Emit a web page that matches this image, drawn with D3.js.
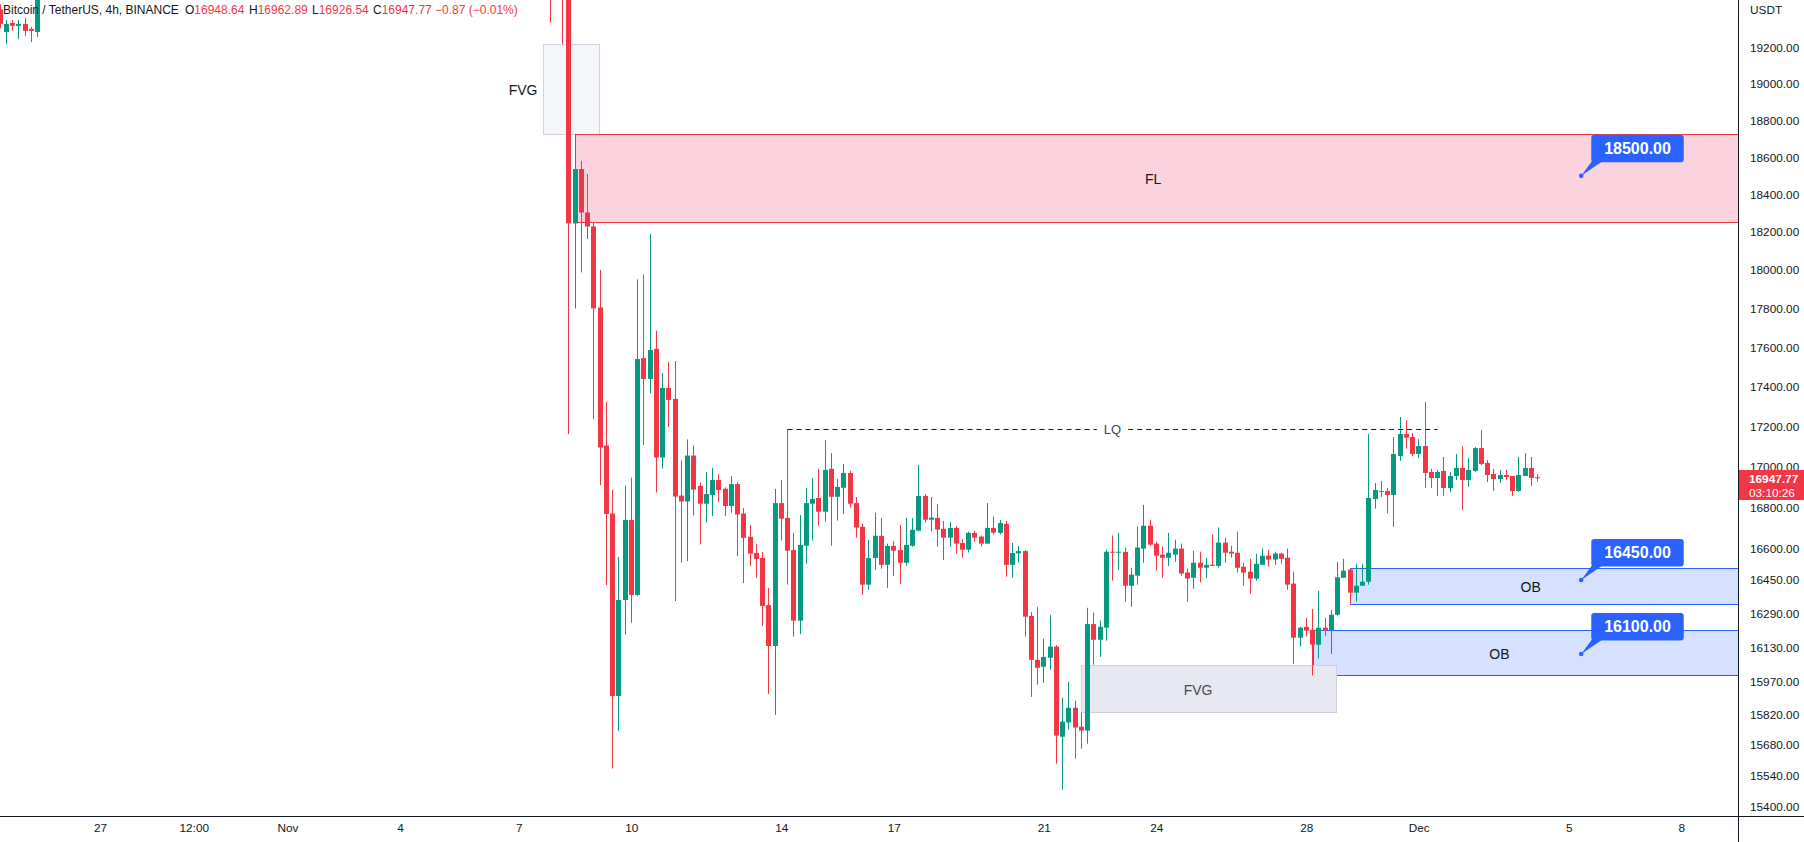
<!DOCTYPE html>
<html>
<head>
<meta charset="utf-8">
<script src="https://cdn.jsdelivr.net/npm/d3@7/dist/d3.min.js"></script>
<style>
html,body{margin:0;padding:0;background:#ffffff;}
svg{display:block;}
text{font-family:"Liberation Sans",Arial,sans-serif;}
</style>
</head>
<body>
<svg id="chart" width="1804" height="842"></svg>
<script>
// ---------------- DATA ----------------
// bar index 0 = 12 Nov 2022 00:00 (4h bars, TradingView bar-index time axis)
const barsLeft = [-113,-112,-111,-110,-109,-108,-107];
const barsMain = d3.range(-25, 134);
const bars = barsLeft.concat(barsMain);

const opens = [
19417,19290,19341,19324,19335,19307,19290,
19610,19540,19590,19520,18246,18537,18304,18230,17806,17106,16771,15905,16355,16740,16379,17546,17440,17593,17046,17395,17339,16859,16830,17056,16906,
16819,16862,16935,16892,16808,16915,16771,16658,16580,16556,16331,16138,16822,16750,16594,16257,16615,16819,16847,16780,
16990,16853,16897,16970,16822,16706,16428,16556,16663,16523,16614,16594,16533,16615,16688,16857,16741,16750,16697,16654,
16701,16628,16596,16677,16659,16625,16701,16677,16721,16523,16578,16589,16279,16073,16041,16083,16135,15718,15783,15851,
15764,15746,16241,16167,16224,16586,16581,16585,16423,16471,16601,16712,16625,16572,16557,16572,16601,16486,16461,16533,
16509,16523,16518,16630,16586,16581,16514,16490,16457,16523,16567,16548,16577,16557,16433,16177,16228,16214,16144,16224,
16210,16285,16461,16500,16390,16423,16442,16842,16881,16881,16862,17054,17163,17148,17064,17103,16975,16945,16980,16896,
16955,16995,16935,16980,17093,17019,16965,16940,16960,16955,16881,16955,16995,16948.64];

const highs = [
19445,19357,19357,19357,19368,19318,20050,
19690,19650,19700,19640,18727,18581,18510,18251,18001,17324,16888,16561,16908,16947,17952,17978,18190,17687,17470,17526,17531,17032,17136,17106,16923,
16975,16994,16965,16899,16954,16925,16798,16716,16624,16585,16412,16891,16935,17186,16677,16764,16896,16945,16990,17133,
17068,16940,17014,16980,16852,16721,16643,16775,16750,16625,16638,16716,16750,16750,17009,16866,16852,16818,16735,16730,
16711,16648,16683,16688,16664,16822,16756,16740,16735,16628,16614,16594,16298,16322,16172,16284,16142,15897,15971,15883,
15829,16318,16295,16257,16596,16664,16677,16606,16509,16708,16813,16741,16635,16610,16677,16644,16625,16505,16591,16586,
16557,16669,16703,16654,16615,16683,16533,16552,16577,16601,16596,16586,16581,16601,16490,16228,16271,16313,16399,16271,
16308,16538,16552,16505,16528,16528,17163,16920,16930,16896,17148,17248,17233,17168,17138,17324,16990,16985,17049,16975,
17064,17103,17044,17098,17183,17034,16990,16985,16985,16955,17049,17068,17049,16962.89];

const lows = [
19310,19222,19296,19250,19268,19233,19262,
19343,19490,19223,17163,17801,17988,18164,17238,16910,16426,15573,15744,16190,16248,16374,17108,17367,16874,16992,17198,16350,16534,16541,16762,16621,
16727,16759,16827,16759,16775,16565,16436,16517,16460,16232,15914,15818,16640,16428,16182,16194,16528,16640,16712,16732,
16615,16737,16768,16800,16654,16380,16404,16498,16504,16413,16469,16431,16518,16610,16683,16727,16683,16610,16546,16610,
16577,16557,16582,16635,16610,16625,16669,16670,16466,16461,16533,16182,15901,15957,15966,16027,15595,15478,15750,15618,
15663,15686,16050,16087,16163,16447,16498,16347,16323,16428,16533,16615,16495,16461,16518,16538,16471,16347,16409,16438,
16461,16518,16509,16533,16557,16486,16423,16385,16447,16523,16514,16523,16528,16404,16054,16135,16182,16000,16080,16186,
16101,16280,16461,16333,16347,16423,16428,16795,16853,16772,16707,17030,17090,17054,17044,16896,16896,16857,16857,16876,
16935,16788,16901,16975,17009,16925,16881,16920,16935,16857,16876,16955,16906,16926.54];

const closes = [
19335,19335,19324,19335,19296,19296,19890,
19540,19590,19520,18246,18537,18304,18230,17801,17096,16769,15905,16355,16740,16379,17541,17440,17588,17046,17395,17334,16854,16830,17056,16888,16819,
16866,16935,16886,16808,16915,16766,16653,16577,16551,16327,16138,16822,16746,16591,16257,16619,16822,16842,16780,16985,
16853,16901,16970,16819,16703,16428,16556,16663,16523,16614,16591,16533,16619,16692,16857,16741,16751,16693,16654,16701,
16625,16596,16677,16654,16625,16701,16678,16725,16523,16580,16589,16276,16073,16036,16087,16135,15723,15787,15851,15760,
15746,16241,16167,16228,16586,16581,16586,16423,16476,16606,16712,16620,16567,16557,16581,16601,16481,16457,16533,16509,
16523,16518,16630,16581,16577,16509,16486,16457,16528,16567,16548,16577,16552,16428,16177,16224,16210,16144,16224,16210,
16285,16463,16495,16390,16423,16442,16847,16886,16876,16862,17064,17163,17145,17064,17103,16970,16945,16975,16896,16955,
16995,16935,16985,17093,17014,16960,16940,16960,16950,16881,16960,16995,16945,16947.77];

const priceTicks = [19200,19000,18800,18600,18400,18200,18000,17800,17600,17400,17200,17000,16800,16600,16450,16290,16130,15970,15820,15680,15540,15400];
const timeTickBars = [-97,-82,-67,-49,-30,-12,12,30,54,72,96,114,138,156];
const timeTickLabels = ["27","12:00","Nov","4","7","10","14","17","21","24","28","Dec","5","8"];

const zoneLabels = ["FVG","FL","OB","OB","FVG"];
const zoneKinds = ["gapTop","liquidity","block","block","gap"];
const zoneStartBars = [-26.1,-21,103,97,60];
const zoneEndBars = [-17.1,170,170,170,100.75];
const zoneTops = [19223,18725,16506,16213,16047];
const zoneBottoms = [18727,18255,16335,16002,15829];
const zoneLabelBars = [-29.3,71.5,131.9,126.9,78.7];

const lqLabel = "LQ";
const lqPrice = 17186;
const lqStartBar = 13;
const lqEndBar = 117;

const calloutPrices = [18500,16450,16100];
const calloutBar = 140;

const legendTitle = "Bitcoin / TetherUS, 4h, BINANCE";
const legendKeys = ["O","H","L","C"];
const legendValues = [16948.64,16962.89,16926.54,16947.77];
const legendChange = "\u22120.87 (\u22120.01%)";
const countdown = "03:10:26";
const currency = "USDT";

// ---------------- STYLE ----------------
const UP = "#089981", DOWN = "#F23645", TXT = "#131722";
const zoneStyle = {
  gapTop:   {fill:"#F5F6F9", stroke:"#D1D4DC", text:"#131722"},
  liquidity:{fill:"#FAD3DE", stroke:"#F23645", text:"#131722"},
  block:    {fill:"#D6E0FF", stroke:"#2962FF", text:"#131722"},
  gap:      {fill:"#E8E8F3", stroke:"#CFD0DA", text:"#4A4A55"}
};

// ---------------- CHART ----------------
const W = 1804, H = 842, PR = 1738, PB = 816;
const svg = d3.select("#chart");
svg.append("rect").attr("width", W).attr("height", H).attr("fill", "#ffffff");

const x = d3.scaleLinear().domain([-113, 165]).range([0, 1737.5]);
const y = d3.scaleLog().domain([15360, 19470]).range([PB, 0]);

svg.append("defs").append("clipPath").attr("id", "plot")
  .append("rect").attr("x", 0).attr("y", 0).attr("width", PR).attr("height", PB);
const g = svg.append("g").attr("clip-path", "url(#plot)");

// zones
const zones = zoneLabels.map((t, i) => ({t, k: zoneKinds[i], x0: x(zoneStartBars[i]), x1: x(zoneEndBars[i]),
  y0: y(zoneTops[i]), y1: y(zoneBottoms[i]), lx: x(zoneLabelBars[i])}));
g.selectAll("rect.zone").data(zones).join("rect").attr("class", "zone")
  .attr("x", d => Math.round(d.x0) + 0.5).attr("y", d => Math.round(d.y0) + 0.5)
  .attr("width", d => Math.round(d.x1) - Math.round(d.x0)).attr("height", d => Math.round(d.y1) - Math.round(d.y0))
  .attr("fill", d => zoneStyle[d.k].fill).attr("stroke", d => zoneStyle[d.k].stroke).attr("stroke-width", 1);

// candles
const candles = bars.map((b, i) => ({b, o: opens[i], h: highs[i], l: lows[i], c: closes[i]}));
const cg = g.append("g");
cg.selectAll("line").data(candles).join("line")
  .attr("x1", d => Math.floor(x(d.b)) + 0.5).attr("x2", d => Math.floor(x(d.b)) + 0.5)
  .attr("y1", d => y(d.h)).attr("y2", d => y(d.l))
  .attr("stroke", d => d.c >= d.o ? UP : DOWN).attr("stroke-width", 1);
cg.selectAll("rect").data(candles).join("rect")
  .attr("x", d => Math.floor(x(d.b)) - 2).attr("width", 5)
  .attr("y", d => y(Math.max(d.o, d.c)))
  .attr("height", d => Math.max(1, Math.abs(y(d.o) - y(d.c))))
  .attr("fill", d => d.c >= d.o ? UP : DOWN);

// zone labels
g.selectAll("text.zl").data(zones).join("text").attr("class", "zl")
  .attr("x", d => d.lx).attr("y", d => (d.y0 + d.y1) / 2 + 1)
  .attr("text-anchor", "middle").attr("dominant-baseline", "central")
  .attr("font-size", 14).attr("fill", d => zoneStyle[d.k].text).text(d => d.t);

// LQ dashed line with label gap
const lqY = Math.round(y(lqPrice)) + 0.5;
const lqX0 = x(lqStartBar), lqX1 = x(lqEndBar), lqMid = (lqX0 + lqX1) / 2;
const lqText = g.append("text").attr("x", lqMid).attr("y", lqY).attr("text-anchor", "middle")
  .attr("dominant-baseline", "central").attr("font-size", 13).attr("fill", "#434651").text(lqLabel);
const lqW = lqText.node().getComputedTextLength();
[[lqX0, lqMid - lqW / 2 - 7], [lqMid + lqW / 2 + 7, lqX1]].forEach(s => {
  g.append("line").attr("x1", s[0]).attr("x2", s[1]).attr("y1", lqY).attr("y2", lqY)
    .attr("stroke", "#131722").attr("stroke-width", 1).attr("stroke-dasharray", "5,4");
});

// callouts
const cx = x(calloutBar);
calloutPrices.forEach(p => {
  const ty = y(p);
  const cgp = g.append("g");
  cgp.append("path").attr("d", `M${cx + 11},${ty - 15} L${cx + 22},${ty - 15} L${cx},${ty} Z`).attr("fill", "#2962FF");
  cgp.append("rect").attr("x", cx + 10).attr("y", ty - 41).attr("width", 92.5).attr("height", 27.5)
    .attr("rx", 3).attr("fill", "#2962FF");
  cgp.append("circle").attr("cx", cx).attr("cy", ty).attr("r", 2.3).attr("fill", "#2962FF");
  cgp.append("text").attr("x", cx + 56.3).attr("y", ty - 27.3).attr("text-anchor", "middle")
    .attr("dominant-baseline", "central").attr("font-size", 16).attr("font-weight", "bold")
    .attr("fill", "#ffffff").text(d3.format(".2f")(p));
});

// axes
const yAxis = d3.axisRight(y).tickValues(priceTicks).tickFormat(d3.format(".2f")).tickSize(0).tickPadding(12);
const ya = svg.append("g").attr("transform", `translate(${PR},0)`).call(yAxis);
ya.select(".domain").remove();
ya.selectAll("text").attr("font-size", 11.8).attr("fill", TXT).attr("font-family", '"Liberation Sans",Arial,sans-serif');

const xAxis = d3.axisBottom(x).tickValues(timeTickBars).tickFormat((d, i) => timeTickLabels[i]).tickSize(0).tickPadding(8);
const xa = svg.append("g").attr("transform", `translate(0,${PB})`).call(xAxis);
xa.select(".domain").remove();
xa.selectAll("text").attr("font-size", 11.8).attr("fill", TXT).attr("font-family", '"Liberation Sans",Arial,sans-serif');

svg.append("text").attr("x", PR + 12).attr("y", 10).attr("dominant-baseline", "central")
  .attr("font-size", 11.8).attr("fill", TXT).text(currency);

// current price tag
const lastC = closes[closes.length - 1];
const ly = y(lastC);
svg.append("rect").attr("x", PR).attr("y", ly - 7.5).attr("width", W - PR).attr("height", 30).attr("fill", DOWN);
svg.append("text").attr("x", PR + 11).attr("y", ly + 1.5).attr("dominant-baseline", "central")
  .attr("font-size", 11.8).attr("fill", "#fff").attr("font-weight", "bold").text(d3.format(".2f")(lastC));
svg.append("text").attr("x", PR + 11).attr("y", ly + 15.5).attr("dominant-baseline", "central")
  .attr("font-size", 11.8).attr("fill", "#fff").text(countdown);

// frame lines
svg.append("line").attr("x1", PR + 0.5).attr("x2", PR + 0.5).attr("y1", 0).attr("y2", H).attr("stroke", "#131722");
svg.append("line").attr("x1", 0).attr("x2", W).attr("y1", PB + 0.5).attr("y2", PB + 0.5).attr("stroke", "#131722");

// legend
const lg = svg.append("g").attr("font-size", 12);
lg.append("text").attr("x", 3).attr("y", 10).attr("dominant-baseline", "central").attr("fill", TXT).text(legendTitle);
const keyX = [185, 249, 312, 373];
legendKeys.forEach((k, i) => {
  const t = lg.append("text").attr("x", keyX[i]).attr("y", 10).attr("dominant-baseline", "central");
  t.append("tspan").attr("fill", TXT).text(k);
  t.append("tspan").attr("fill", DOWN).text(d3.format(".2f")(legendValues[i]));
});
lg.append("text").attr("x", 435).attr("y", 10).attr("dominant-baseline", "central").attr("fill", DOWN).text(legendChange);
</script>
</body>
</html>
